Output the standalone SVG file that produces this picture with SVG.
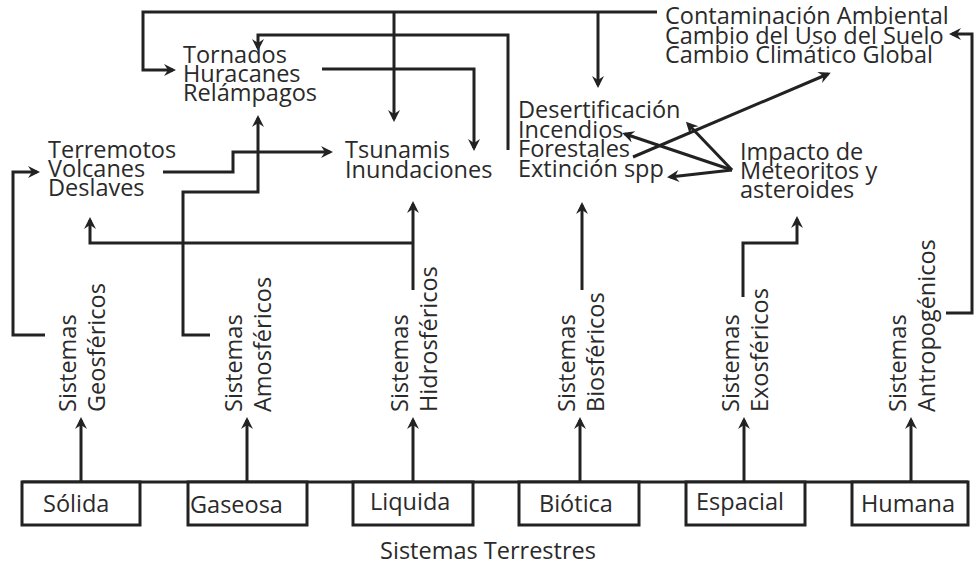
<svg xmlns="http://www.w3.org/2000/svg" width="976" height="565" viewBox="0 0 976 565">
<style>
text{font-family:"Open Sans","Noto Sans",sans-serif;font-size:23.5px;fill:#2a2a2a}
.c{fill:none;stroke:#222;stroke-width:3}
.a{marker-end:url(#ah)}
.box{fill:#fff;stroke:#222;stroke-width:3}
</style>
<defs>
<marker id="ah" markerWidth="14" markerHeight="14" refX="10" refY="7" orient="auto" markerUnits="userSpaceOnUse">
<path d="M1,1 L13,7 L1,13 L5,7 Z" fill="#222"/>
</marker>
</defs>
<rect width="976" height="565" fill="#fff"/>
<g id="connectors">
<path class="c" d="M22,482 H968"/>
<path class="c a" d="M81,482 V420"/>
<path class="c a" d="M247,482 V420"/>
<path class="c a" d="M413,482 V420"/>
<path class="c a" d="M580,482 V420"/>
<path class="c a" d="M744,482 V420"/>
<path class="c a" d="M911,482 V420"/>
<path class="c a" d="M657,12 H143 V70 H173"/>
<path class="c a" d="M394,12 V119"/>
<path class="c a" d="M598,12 V85"/>
<path class="c a" d="M508,150 V35 H258 V48"/>
<path class="c a" d="M322,69 H474 V148"/>
<path class="c a" d="M210,335 H183 V192 H258 V118"/>
<path class="c a" d="M163,172 H233 V152 H330"/>
<path class="c a" d="M45,335 H13 V172 H37"/>
<path class="c a" d="M413,290 V204"/>
<path class="c a" d="M413,243 H90 V220"/>
<path class="c a" d="M582,290 V205"/>
<path class="c a" d="M743,297 V243 H797 V219"/>
<path class="c a" d="M946,313 H972 V34 H952"/>
<path class="c a" d="M732,170 L688,124"/>
<path class="c a" d="M732,170 L625,134"/>
<path class="c a" d="M732,170 L670,177"/>
<path class="c a" d="M633,157 L828,74"/>
</g>
<g id="n-tornados">
<text x="183" y="63">Tornados</text>
<text x="183" y="82">Huracanes</text>
<text x="183" y="101">Relámpagos</text>
</g>
<g id="n-contaminacion">
<text x="665" y="24">Contaminación Ambiental</text>
<text x="665" y="44">Cambio del Uso del Suelo</text>
<text x="665" y="63">Cambio Climático Global</text>
</g>
<g id="n-terremotos">
<text x="48" y="158">Terremotos</text>
<text x="48" y="177">Volcanes</text>
<text x="48" y="196">Deslaves</text>
</g>
<g id="n-tsunamis">
<text x="345" y="158">Tsunamis</text>
<text x="345" y="178">Inundaciones</text>
</g>
<g id="n-desertificacion">
<text x="518" y="118">Desertificación</text>
<text x="518" y="138">Incendios</text>
<text x="518" y="157">Forestales</text>
<text x="518" y="177">Extinción spp</text>
</g>
<g id="n-impacto">
<text x="740" y="160">Impacto de</text>
<text x="740" y="179">Meteoritos y</text>
<text x="740" y="198">asteroides</text>
</g>
<g id="n-geo" transform="translate(76,412) rotate(-90)">
<text x="0" y="0">Sistemas</text>
<text x="0" y="29">Geosféricos</text>
</g>
<g id="n-amo" transform="translate(242,412) rotate(-90)">
<text x="0" y="0">Sistemas</text>
<text x="0" y="29">Amosféricos</text>
</g>
<g id="n-hidro" transform="translate(408,412) rotate(-90)">
<text x="0" y="0">Sistemas</text>
<text x="0" y="29">Hidrosféricos</text>
</g>
<g id="n-bio" transform="translate(575,412) rotate(-90)">
<text x="0" y="0">Sistemas</text>
<text x="0" y="29">Biosféricos</text>
</g>
<g id="n-exo" transform="translate(739,412) rotate(-90)">
<text x="0" y="0">Sistemas</text>
<text x="0" y="29">Exosféricos</text>
</g>
<g id="n-antro" transform="translate(906,412) rotate(-90)">
<text x="0" y="0">Sistemas</text>
<text x="0" y="29">Antropogénicos</text>
</g>
<g id="b-solida"><rect class="box" x="22" y="482" width="118" height="43"/><text x="43" y="512">Sólida</text></g>
<g id="b-gaseosa"><rect class="box" x="188" y="482" width="119" height="43"/><text x="190" y="513">Gaseosa</text></g>
<g id="b-liquida"><rect class="box" x="353" y="482" width="120" height="43"/><text x="370" y="510">Liquida</text></g>
<g id="b-biotica"><rect class="box" x="519" y="482" width="120" height="43"/><text x="539" y="512">Biótica</text></g>
<g id="b-espacial"><rect class="box" x="686" y="482" width="119" height="43"/><text x="696" y="510">Espacial</text></g>
<g id="b-humana"><rect class="box" x="852" y="482" width="116" height="43"/><text x="861" y="512">Humana</text></g>
<g id="n-terrestres"><text x="488" y="559" text-anchor="middle">Sistemas Terrestres</text></g>
</svg>
